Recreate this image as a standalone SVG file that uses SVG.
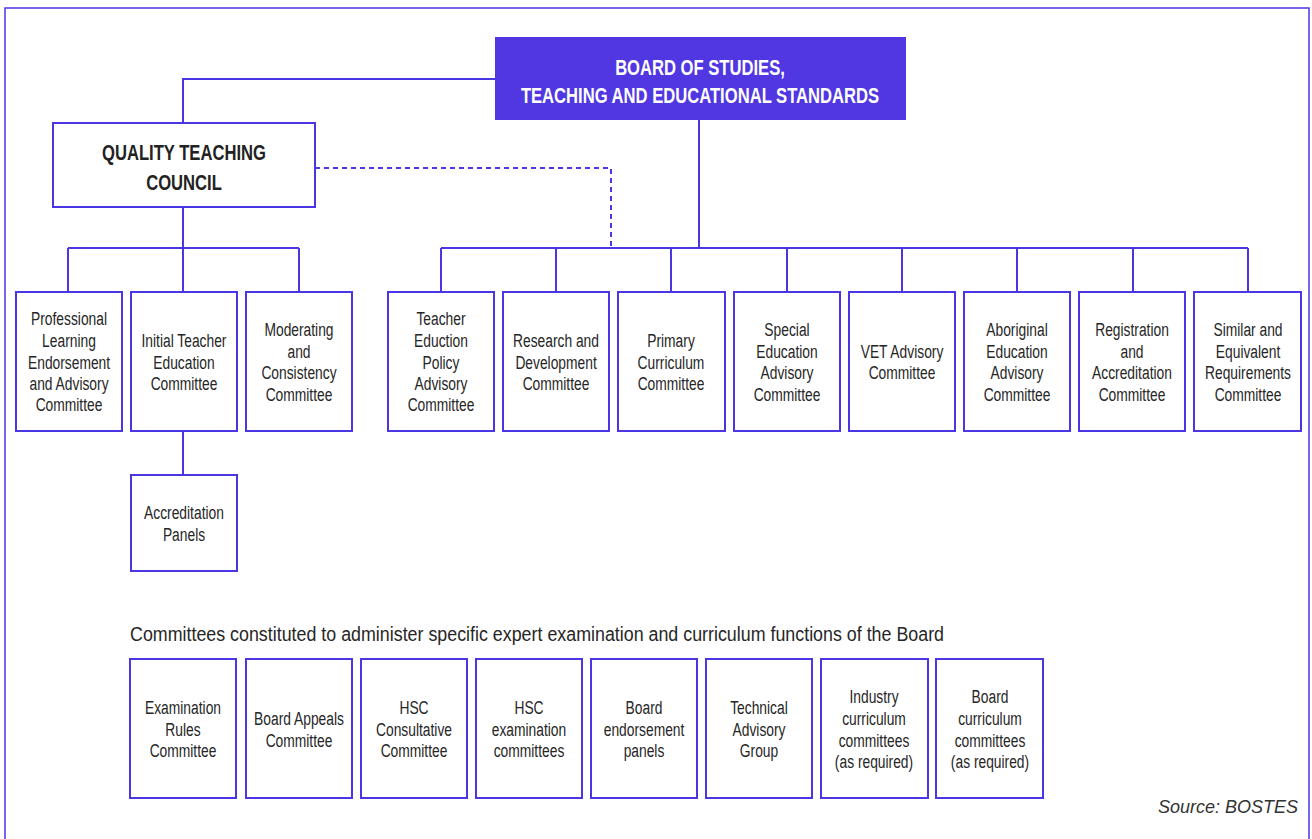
<svg xmlns="http://www.w3.org/2000/svg" width="1312" height="839" viewBox="0 0 1312 839">
<style>
.frame{fill:none;stroke:#4b36e6;stroke-width:1.5}
.box{fill:#fff;stroke:#4b36e6;stroke-width:2}
.board{fill:#5037e2;stroke:none}
.ln{fill:none;stroke:#4b36e6;stroke-width:2}
.dash{fill:none;stroke:#4b36e6;stroke-width:2;stroke-dasharray:5 4}
.t{font-family:"Liberation Sans",Arial,sans-serif;font-size:17.6px;fill:#262626;text-anchor:middle;transform-box:fill-box;transform-origin:center;transform:scaleX(0.785)}
.h{font-family:"Liberation Sans",Arial,sans-serif;font-size:22px;font-weight:bold;text-anchor:middle;transform-box:fill-box;transform-origin:center;transform:scaleX(0.755)}
.cap{font-family:"Liberation Sans",Arial,sans-serif;font-size:20px;fill:#262626}
.src{font-family:"Liberation Sans",Arial,sans-serif;font-size:18px;font-style:italic;fill:#333;text-anchor:end}
</style>
<rect class="frame" x="5" y="8" width="1304" height="850"/>
<g id="connectors">
<polyline class="ln" points="495,79 183,79 183,123"/>
<polyline class="dash" points="315,168 611,168 611,248"/>
<line class="ln" x1="699" y1="120" x2="699" y2="248"/>
<line class="ln" x1="441" y1="248" x2="1248" y2="248"/>
<line class="ln" x1="441" y1="248" x2="441" y2="292"/>
<line class="ln" x1="556" y1="248" x2="556" y2="292"/>
<line class="ln" x1="671" y1="248" x2="671" y2="292"/>
<line class="ln" x1="787" y1="248" x2="787" y2="292"/>
<line class="ln" x1="902" y1="248" x2="902" y2="292"/>
<line class="ln" x1="1017" y1="248" x2="1017" y2="292"/>
<line class="ln" x1="1133" y1="248" x2="1133" y2="292"/>
<line class="ln" x1="1248" y1="248" x2="1248" y2="292"/>
<line class="ln" x1="183" y1="207" x2="183" y2="248"/>
<line class="ln" x1="68" y1="248" x2="299" y2="248"/>
<line class="ln" x1="68" y1="248" x2="68" y2="292"/>
<line class="ln" x1="183" y1="248" x2="183" y2="292"/>
<line class="ln" x1="299" y1="248" x2="299" y2="292"/>
<line class="ln" x1="183" y1="431" x2="183" y2="475"/>
</g>
<g id="board">
<rect class="board" x="495" y="37" width="411" height="83"/>
<text class="h" fill="#fff" x="700" y="75">BOARD OF STUDIES,</text>
<text class="h" fill="#fff" x="700" y="103">TEACHING AND EDUCATIONAL STANDARDS</text>
</g>
<g id="qtc">
<rect class="box" x="53" y="123" width="262" height="84"/>
<text class="h" fill="#222" x="184" y="160">QUALITY TEACHING</text>
<text class="h" fill="#222" x="184" y="190">COUNCIL</text>
</g>
<g id="pleac">
<rect class="box" x="16" y="292" width="106" height="139"/>
<text class="t" x="69" y="325">Professional</text>
<text class="t" x="69" y="347">Learning</text>
<text class="t" x="69" y="369">Endorsement</text>
<text class="t" x="69" y="390">and Advisory</text>
<text class="t" x="69" y="411">Committee</text>
</g>
<g id="itec">
<rect class="box" x="131" y="292" width="106" height="139"/>
<text class="t" x="184" y="347">Initial Teacher</text>
<text class="t" x="184" y="369">Education</text>
<text class="t" x="184" y="390">Committee</text>
</g>
<g id="mcc">
<rect class="box" x="246" y="292" width="106" height="139"/>
<text class="t" x="299" y="336">Moderating</text>
<text class="t" x="299" y="358">and</text>
<text class="t" x="299" y="379">Consistency</text>
<text class="t" x="299" y="401">Committee</text>
</g>
<g id="accp">
<rect class="box" x="131" y="475" width="106" height="96"/>
<text class="t" x="184" y="519">Accreditation</text>
<text class="t" x="184" y="541">Panels</text>
</g>
<g id="tepac">
<rect class="box" x="388" y="292" width="106" height="139"/>
<text class="t" x="441" y="325">Teacher</text>
<text class="t" x="441" y="347">Eduction</text>
<text class="t" x="441" y="369">Policy</text>
<text class="t" x="441" y="390">Advisory</text>
<text class="t" x="441" y="411">Committee</text>
</g>
<g id="rdc">
<rect class="box" x="503" y="292" width="106" height="139"/>
<text class="t" x="556" y="347">Research and</text>
<text class="t" x="556" y="369">Development</text>
<text class="t" x="556" y="390">Committee</text>
</g>
<g id="pcc">
<rect class="box" x="618" y="292" width="107" height="139"/>
<text class="t" x="671" y="347">Primary</text>
<text class="t" x="671" y="369">Curriculum</text>
<text class="t" x="671" y="390">Committee</text>
</g>
<g id="seac">
<rect class="box" x="734" y="292" width="106" height="139"/>
<text class="t" x="787" y="336">Special</text>
<text class="t" x="787" y="358">Education</text>
<text class="t" x="787" y="379">Advisory</text>
<text class="t" x="787" y="401">Committee</text>
</g>
<g id="vet">
<rect class="box" x="849" y="292" width="106" height="139"/>
<text class="t" x="902" y="358">VET Advisory</text>
<text class="t" x="902" y="379">Committee</text>
</g>
<g id="aeac">
<rect class="box" x="964" y="292" width="106" height="139"/>
<text class="t" x="1017" y="336">Aboriginal</text>
<text class="t" x="1017" y="358">Education</text>
<text class="t" x="1017" y="379">Advisory</text>
<text class="t" x="1017" y="401">Committee</text>
</g>
<g id="rac">
<rect class="box" x="1079" y="292" width="106" height="139"/>
<text class="t" x="1132" y="336">Registration</text>
<text class="t" x="1132" y="358">and</text>
<text class="t" x="1132" y="379">Accreditation</text>
<text class="t" x="1132" y="401">Committee</text>
</g>
<g id="serc">
<rect class="box" x="1194" y="292" width="107" height="139"/>
<text class="t" x="1248" y="336">Similar and</text>
<text class="t" x="1248" y="358">Equivalent</text>
<text class="t" x="1248" y="379">Requirements</text>
<text class="t" x="1248" y="401">Committee</text>
</g>
<text class="cap" x="130" y="641" textLength="814" lengthAdjust="spacingAndGlyphs">Committees constituted to administer specific expert examination and curriculum functions of the Board</text>
<g id="erc">
<rect class="box" x="130" y="659" width="106" height="139"/>
<text class="t" x="183" y="714">Examination</text>
<text class="t" x="183" y="736">Rules</text>
<text class="t" x="183" y="757">Committee</text>
</g>
<g id="bac">
<rect class="box" x="246" y="659" width="106" height="139"/>
<text class="t" x="299" y="725">Board Appeals</text>
<text class="t" x="299" y="747">Committee</text>
</g>
<g id="hscc">
<rect class="box" x="361" y="659" width="106" height="139"/>
<text class="t" x="414" y="714">HSC</text>
<text class="t" x="414" y="736">Consultative</text>
<text class="t" x="414" y="757">Committee</text>
</g>
<g id="hsce">
<rect class="box" x="476" y="659" width="106" height="139"/>
<text class="t" x="529" y="714">HSC</text>
<text class="t" x="529" y="736">examination</text>
<text class="t" x="529" y="757">committees</text>
</g>
<g id="bep">
<rect class="box" x="591" y="659" width="106" height="139"/>
<text class="t" x="644" y="714">Board</text>
<text class="t" x="644" y="736">endorsement</text>
<text class="t" x="644" y="757">panels</text>
</g>
<g id="tag">
<rect class="box" x="706" y="659" width="106" height="139"/>
<text class="t" x="759" y="714">Technical</text>
<text class="t" x="759" y="736">Advisory</text>
<text class="t" x="759" y="757">Group</text>
</g>
<g id="icc">
<rect class="box" x="821" y="659" width="107" height="139"/>
<text class="t" x="874" y="703">Industry</text>
<text class="t" x="874" y="725">curriculum</text>
<text class="t" x="874" y="747">committees</text>
<text class="t" x="874" y="768">(as required)</text>
</g>
<g id="bcc">
<rect class="box" x="936" y="659" width="107" height="139"/>
<text class="t" x="990" y="703">Board</text>
<text class="t" x="990" y="725">curriculum</text>
<text class="t" x="990" y="747">committees</text>
<text class="t" x="990" y="768">(as required)</text>
</g>
<text class="src" x="1298" y="813">Source: BOSTES</text>
</svg>
